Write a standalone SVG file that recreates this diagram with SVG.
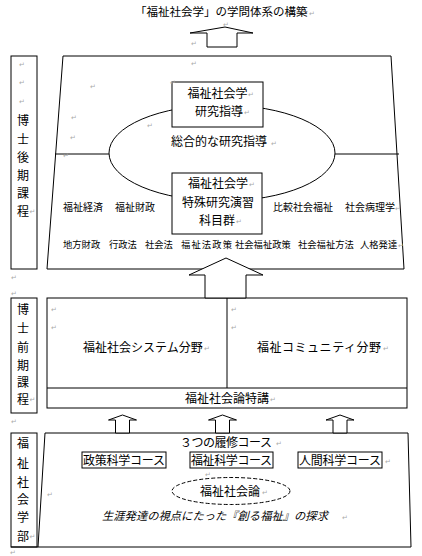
<svg xmlns="http://www.w3.org/2000/svg" width="422" height="556" viewBox="0 0 422 556">
<style>
.ln{fill:none;stroke:#000;stroke-width:1}
.bx{fill:#fff;stroke:#000;stroke-width:1}
.ar{fill:#fff;stroke:#000;stroke-width:1;stroke-linejoin:miter}
text{font-family:"Noto Sans CJK JP","Liberation Sans",sans-serif;fill:#000}
.t12{font-size:12px}
.t11{font-size:11.5px}
.s10{font-size:10px}
.s9{font-size:9.3px}
.lb{font-size:12px;text-anchor:middle}
.mid{text-anchor:middle}
.it{font-size:11.3px;font-style:italic}
.pm{font-family:"DejaVu Sans",sans-serif;font-size:7px;fill:#aaa}
</style>
<rect width="422" height="556" fill="#fff"/>

<g id="title">
<text class="t11" x="135" y="16">「福祉社会学」の学問体系の構築</text>
<text class="pm" x="309" y="16">↵</text>
</g>

<g id="doctoral-late">
<rect class="bx" x="11" y="56" width="26" height="213"/>
<text class="pm" x="19" y="67">↵</text>
<text class="pm" x="19" y="85">↵</text>
<text class="pm" x="19" y="104">↵</text>
<text class="lb" x="23" y="124.5">博</text>
<text class="lb" x="23" y="143.5">士</text>
<text class="lb" x="23" y="161.5">後</text>
<text class="lb" x="23" y="179.5">期</text>
<text class="lb" x="23" y="197.5">課</text>
<text class="lb" x="23" y="215.5">程</text>
<text class="pm" x="29.5" y="214">↵</text>
<polygon class="bx" points="63,56 391,56 404,269 47,269"/>
<line class="ln" x1="55" y1="154" x2="109" y2="154"/>
<line class="ln" x1="335" y1="154" x2="399" y2="154"/>
<ellipse class="ln" cx="222" cy="153" rx="113" ry="48"/>
<text class="t12" x="171" y="145.5">総合的な研究指導</text>
<text class="pm" x="271" y="146">↵</text>
<text class="pm" x="191" y="66">↵</text>
<text class="pm" x="90" y="89">↵</text>
<text class="pm" x="71" y="120">↵</text>
<text class="pm" x="70" y="140">↵</text>
<text class="pm" x="63" y="158">↵</text>
<text class="pm" x="147" y="128">↵</text>
<text class="s10" x="63" y="211">福祉経済</text>
<text class="s10" x="115" y="211">福祉財政</text>
<text class="s10" x="273" y="211">比較社会福祉</text>
<text class="s10" x="345" y="211">社会病理学</text>
<text class="pm" x="395" y="211">↵</text>
<text class="s9" x="63" y="248">地方財政</text>
<text class="s9" x="109" y="248">行政法</text>
<text class="s9" x="145" y="248">社会法</text>
<text class="s9" x="181" y="248" textLength="51">福祉法政策</text>
<text class="s9" x="235" y="248">社会福祉政策</text>
<text class="s9" x="298" y="248">社会福祉方法</text>
<text class="s9" x="360" y="248">人格発達</text>
<text class="pm" x="398" y="248">↵</text>
</g>

<g id="research-guidance">
<rect class="bx" x="172" y="82" width="91" height="45"/>
<text class="pm" x="170" y="85">↵</text>
<text class="t12 mid" x="217.5" y="97.5">福祉社会学</text>
<text class="pm" x="248" y="97">↵</text>
<text class="t12 mid" x="219" y="115.5">研究指導</text>
<text class="pm" x="244" y="115">↵</text>
</g>

<g id="special-seminar">
<rect class="bx" x="172" y="173" width="90" height="61"/>
<text class="t12 mid" x="218" y="187.5">福祉社会学</text>
<text class="pm" x="249" y="187">↵</text>
<text class="t12 mid" x="218" y="206.5">特殊研究演習</text>
<text class="t12 mid" x="217" y="224.5">科目群</text>
<text class="pm" x="236" y="224">↵</text>
</g>

<g id="doctoral-early">
<text class="pm" x="11" y="280">↵</text>
<text class="pm" x="11" y="296">↵</text>
<rect class="bx" x="11" y="298" width="26" height="115"/>
<text class="lb" x="23" y="313.5">博</text>
<text class="lb" x="23" y="333">士</text>
<text class="lb" x="23" y="351.5">前</text>
<text class="lb" x="23" y="370">期</text>
<text class="lb" x="23" y="386.5">課</text>
<text class="lb" x="23" y="403.5">程</text>
<text class="pm" x="29.5" y="402">↵</text>
<text class="pm" x="11" y="424">↵</text>
<rect class="bx" x="47" y="298" width="360" height="110"/>
<line class="ln" x1="47" y1="388" x2="407" y2="388"/>
<line class="ln" x1="227" y1="298" x2="227" y2="388"/>
<text class="pm" x="51" y="312">↵</text>
<text class="pm" x="51" y="330">↵</text>
<text class="pm" x="231" y="312">↵</text>
<text class="pm" x="231" y="330">↵</text>
<text class="t12" x="83" y="351.5">福祉社会システム分野</text>
<text class="pm" x="204" y="351">↵</text>
<text class="t12" x="257" y="351.5" textLength="124">福祉コミュニティ分野</text>
<text class="pm" x="383" y="351">↵</text>
<text class="t12" x="185" y="402.5">福祉社会論特講</text>
<text class="pm" x="270" y="402">↵</text>
</g>

<g id="faculty">
<rect class="bx" x="11" y="433" width="26" height="114"/>
<text class="lb" x="23" y="447.5">福</text>
<text class="lb" x="23" y="467.5">祉</text>
<text class="lb" x="23" y="486.5">社</text>
<text class="lb" x="23" y="503.5">会</text>
<text class="lb" x="23" y="521.5">学</text>
<text class="lb" x="23" y="540.5">部</text>
<text class="pm" x="29.5" y="539">↵</text>
<line class="ln" x1="11" y1="547" x2="38" y2="547"/>
<polygon class="bx" points="45,433 408,433 411,547 38,547"/>
<text class="pm" x="10" y="555">↵</text>
<text class="t12" x="180" y="446.5" textLength="92">３つの履修コース</text>
<text class="pm" x="276" y="446">↵</text>
<text class="pm" x="47" y="497">↵</text>
<text class="pm" x="205" y="477">↵</text>
<text class="it" x="102" y="520">生涯発達の視点にたった『創る福祉』の探求</text>
<text class="pm" x="342" y="520">↵</text>
</g>

<g id="course-policy">
<rect class="bx" x="82" y="452" width="84" height="16"/>
<text class="t12" x="83" y="464.5" textLength="82">政策科学コース</text>
</g>
<g id="course-welfare">
<rect class="bx" x="190" y="452" width="83" height="16"/>
<text class="t12" x="191" y="464.5" textLength="81">福祉科学コース</text>
</g>
<g id="course-human">
<rect class="bx" x="298" y="452" width="84" height="16"/>
<text class="t12" x="299" y="464.5" textLength="82">人間科学コース</text>
<text class="pm" x="385" y="464">↵</text>
</g>
<g id="welfare-society-theory">
<ellipse cx="231" cy="491" rx="59" ry="13.5" fill="#fff" stroke="#000" stroke-width="1" stroke-dasharray="4,2"/>
<text class="t12" x="200" y="495.5">福祉社会論</text>
<text class="pm" x="262" y="495">↵</text>
</g>

<g id="connectors">
<polygon class="ar" points="207,47 207,33 190,33 225,27 253,33 237,33 237,47"/>
<text class="pm" x="223" y="27">↵</text>
<text class="pm" x="191" y="46">↵</text>
<polygon class="ar" points="205,298 205,275 189,275 226,258 263,275 246,275 246,298"/>
<polygon class="ar" points="115.5,433 115.5,420 108.5,420 122.5,415 136.5,420 129.5,420 129.5,433"/>
<polygon class="ar" points="215.5,433 215.5,420 208.5,420 222.5,415 236.5,420 229.5,420 229.5,433"/>
<polygon class="ar" points="333,433 333,420 326,420 340,415 354,420 347,420 347,433"/>
</g>
</svg>
